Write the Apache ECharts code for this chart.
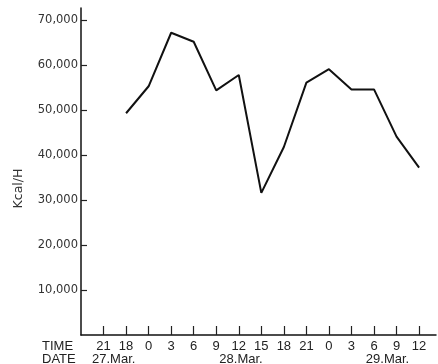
<!DOCTYPE html>
<html>
<head>
<meta charset="utf-8">
<script src="https://cdn.jsdelivr.net/npm/echarts@6/dist/echarts.min.js"></script>
<style>
  html, body { margin: 0; padding: 0; background: #fff; }
  #chart { width: 438px; height: 364px; }
</style>
</head>
<body>
<div id="chart"></div>
<script>
// Hour-of-day labels along the time axis (one per 3-hour step)
const timeLabels = ['21', '18', '0', '3', '6', '9', '12', '15', '18', '21', '0', '3', '6', '9', '12'];
// Heat load in Kcal/H at each time step (no reading at the first step)
const heatLoad = [null, 49300, 55300, 67200, 65200, 54400, 57800, 31600, 41800, 56100, 59100, 54600, 54600, 44100, 37200];
// Day labels printed under the time row
const dateLabels = ['27.Mar.', '28.Mar.', '29.Mar.'];
// Value-axis tick labels
const yTicks = [10000, 20000, 30000, 40000, 50000, 60000, 70000];

// where each day label sits along the time axis (in time-step units)
const dateAnchors = [0.45, 6.1, 12.6];

const lineData = heatLoad.map((v, i) => [i, v]);
const stepIdx = timeLabels.map((_, i) => i);

const chart = echarts.init(document.getElementById('chart'), null, { renderer: 'canvas' });

chart.setOption({
  animation: false,
  backgroundColor: '#ffffff',
  grid: { left: 81, right: 2, top: 8, bottom: 29, containLabel: false, outerBoundsMode: 'none' },
  xAxis: [
    {
      type: 'value',
      min: -1,
      max: 14.75,
      interval: 1,
      splitLine: { show: false },
      axisLine: { show: true, onZero: false, lineStyle: { color: '#111', width: 1.5 } },
      axisTick: { show: true, inside: true, length: 9, customValues: stepIdx, lineStyle: { color: '#222', width: 1.2 } },
      axisLabel: {
        customValues: stepIdx,
        formatter: v => timeLabels[Math.round(v)] ?? '',
        margin: 5,
        color: '#222',
        fontFamily: 'Liberation Sans',
        fontSize: 13
      }
    },
    {
      type: 'value',
      position: 'bottom',
      offset: 13,
      min: -1,
      max: 14.75,
      splitLine: { show: false },
      axisLine: { show: false },
      axisTick: { show: false },
      axisLabel: {
        customValues: dateAnchors,
        formatter: v => {
          const k = dateAnchors.findIndex(a => Math.abs(a - v) < 1e-6);
          return k >= 0 ? dateLabels[k] : '';
        },
        margin: 5,
        color: '#222',
        fontFamily: 'Liberation Sans',
        fontSize: 13
      }
    }
  ],
  yAxis: {
    type: 'value',
    min: 0,
    max: 72700,
    name: 'Kcal/H',
    nameLocation: 'middle',
    nameRotate: 90,
    nameGap: 56,
    nameTextStyle: { color: '#333', fontFamily: 'DejaVu Sans', fontSize: 12.5, padding: [0, 34, 0, 0] },
    splitLine: { show: false },
    axisLine: { show: true, onZero: false, lineStyle: { color: '#111', width: 1.5 } },
    axisTick: { show: true, inside: true, length: 6, customValues: yTicks, lineStyle: { color: '#222', width: 1.2 } },
    axisLabel: {
      customValues: yTicks,
      formatter: v => v.toLocaleString('en-US'),
      margin: 3,
      color: '#333',
      fontFamily: 'DejaVu Sans',
      fontSize: 11.5
    }
  },
  graphic: [
    { type: 'text', left: 42, top: 340, style: { text: 'TIME', fill: '#222', font: '13px "Liberation Sans"' } },
    { type: 'text', left: 42, top: 353, style: { text: 'DATE', fill: '#222', font: '13px "Liberation Sans"' } }
  ],
  series: [
    {
      type: 'line',
      xAxisIndex: 0,
      data: lineData,
      showSymbol: false,
      connectNulls: false,
      lineStyle: { color: '#111', width: 2 },
      itemStyle: { color: '#111' }
    }
  ]
});
</script>
</body>
</html>
